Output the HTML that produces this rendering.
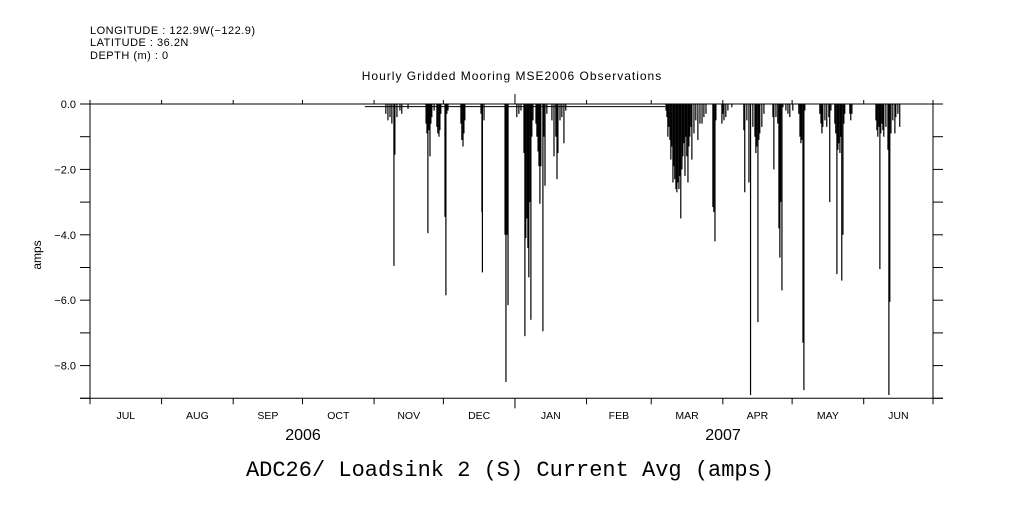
<!DOCTYPE html>
<html><head><meta charset="utf-8"><style>
body{margin:0;background:#fff;width:1009px;height:504px;overflow:hidden}
svg text{font-family:"Liberation Sans",sans-serif;fill:#000}
</style></head><body>
<svg id="chart" width="1009" height="504" viewBox="0 0 1009 504" xmlns="http://www.w3.org/2000/svg">
<g font-size="11" letter-spacing="0.5">
<text x="90" y="34">LONGITUDE : 122.9W(−122.9)</text>
<text x="90" y="46">LATITUDE : 36.2N</text>
<text x="90" y="59">DEPTH (m) : 0</text>
</g>
<text x="512" y="80" font-size="12" letter-spacing="1" text-anchor="middle">Hourly Gridded Mooring MSE2006 Observations</text>
<text transform="translate(41,255) rotate(-90)" font-size="12" text-anchor="middle">amps</text>
<text x="303" y="440" font-size="16" text-anchor="middle">2006</text>
<text x="723" y="440" font-size="16" text-anchor="middle">2007</text>
<text x="510" y="476" font-size="22" text-anchor="middle" style="font-family:'Liberation Mono',monospace">ADC26/ Loadsink 2 (S) Current Avg (amps)</text>
<g id="axes"></g>
<g id="bars"></g>
</svg>
<script>
const monthLabels=["JUL","AUG","SEP","OCT","NOV","DEC","JAN","FEB","MAR","APR","MAY","JUN"];
const monthDays=[31,31,30,31,30,31,31,28,31,30,31,30];
const yTicks=[0,-1,-2,-3,-4,-5,-6,-7,-8,-9];
const yTickLabels=["0.0","-2.0","-4.0","-6.0","-8.0"];
const baselineStart=119, baselineEnd=249, baselineValue=-0.08;
const spikeDays=[128.1,129,129.9,130.7,131.6,132,132.9,134.2,135,137.7,
145.5,145.9,146.3,146.8,147.2,147.6,148,149,
150.2,150.6,151.1,151.5,151.9,153.7,154.1,154.5,155,
160.6,161,161.5,161.9,162.3,
169.3,169.7,169.9,170.6,
179.7,180.1,180.5,181,
184.8,185.7,186.6,187.9,188.3,188.7,189.2,189.6,190,190.5,190.9,191.3,191.8,
193.1,193.5,194,194.4,194.8,195.2,196.1,196.5,197,197.8,
200,200.9,201.7,202.2,202.6,203.5,204.3,205.2,206,
249.4,249.8,250.2,250.6,251.1,251.5,251.9,252.4,252.8,253.2,253.7,254.1,254.5,255,255.4,255.8,256.3,256.7,257.1,257.6,258,258.4,258.9,259.3,259.7,260.2,260.6,261.5,262.3,263.2,264.1,265,265.8,266.7,
269.7,270.1,270.6,271,
273.6,274,274.5,275.3,276.2,277.9,
283.1,283.5,284.4,285.3,286,287,287.9,288.3,288.7,289.2,289.6,290,290.9,291.8,
295.7,296.1,297,297.8,298.3,298.7,299.1,299.6,300,
301.3,302.2,303,304.3,
306.9,307.4,307.8,308.2,308.7,309.1,309.5,
316,316.5,316.9,317.3,318.2,319,319.9,320.3,320.8,
322.5,322.9,323.4,323.8,324.2,324.7,325.1,325.5,326,326.4,326.8,
329,329.4,329.9,
340.3,340.7,341.1,341.6,342,342.4,342.9,343.3,343.7,344.6,345.5,345.9,346.3,346.8,347.6,348.5,348.9,349.8,350.6];
const spikeValues=[-0.3,-0.5,-0.4,-0.6,-4.95,-1.55,-0.4,-0.2,-0.3,-0.15,
-0.6,-0.9,-3.95,-0.8,-1.6,-0.6,-0.4,-0.2,
-0.7,-0.9,-1.0,-0.8,-0.3,-3.45,-5.85,-0.3,-0.2,
-0.6,-1.1,-1.3,-0.9,-0.5,
-0.3,-3.3,-5.15,-0.5,
-4.0,-8.5,-4.0,-6.15,
-0.4,-0.3,-0.2,-1.5,-7.1,-4.1,-3.5,-4.4,-5.3,-3.0,-6.6,-1.0,-0.5,
-0.6,-1.0,-1.45,-1.9,-3.05,-1.9,-6.95,-1.0,-2.5,-0.3,
-0.5,-1.6,-1.0,-2.3,-1.5,-0.5,-0.4,-1.2,-0.2,
-0.2,-0.4,-1.0,-0.7,-1.1,-1.7,-1.3,-2.4,-1.9,-2.3,-2.6,-2.7,-2.4,-2.6,-2.2,-3.5,-2.0,-1.6,-1.2,-2.2,-1.0,-1.6,-2.4,-1.3,-1.0,-0.7,-1.7,-0.9,-0.5,-1.1,-0.6,-0.6,-0.4,-0.3,
-3.15,-3.3,-4.2,-0.5,
-0.6,-0.3,-0.5,-0.4,-0.2,-0.1,
-0.8,-2.7,-0.5,-2.4,-8.9,-0.7,-1.0,-1.5,-1.3,-6.67,-1.1,-0.9,-0.7,-0.3,
-0.4,-2.0,-0.4,-0.6,-3.8,-4.7,-3.0,-5.7,-0.1,
-0.2,-0.3,-0.4,-0.2,
-0.3,-1.0,-1.2,-1.1,-7.3,-8.75,-0.2,
-0.3,-0.6,-0.9,-0.7,-0.5,-0.7,-0.4,-3.0,-0.2,
-0.6,-0.9,-5.2,-1.4,-1.2,-1.5,-1.0,-5.4,-4.0,-0.6,-0.3,
-0.3,-0.5,-0.3,
-0.5,-0.8,-1.0,-0.7,-5.05,-0.9,-0.6,-0.8,-1.0,-0.7,-1.4,-8.9,-6.05,-0.9,-0.5,-0.9,-0.4,-0.3,-0.7];

const X0=90,X1=933,Y0=104,PX_PER_UNIT=32.7,TOTAL=365;
const xs=d=>X0+d*(X1-X0)/TOTAL;
const ys=v=>Y0-v*PX_PER_UNIT;
const NS="http://www.w3.org/2000/svg";
const axes=document.getElementById('axes'), bars=document.getElementById('bars');
function mk(tag,attrs,parent){const e=document.createElementNS(NS,tag);for(const k in attrs)e.setAttribute(k,attrs[k]);parent.appendChild(e);return e;}
const yB=ys(-9);
let e=mk('line',{x1:X0,y1:Y0,x2:X1,y2:Y0,stroke:'#000','stroke-width':1},axes);


e=mk('line',{x1:X0,y1:Y0,x2:X0,y2:yB,stroke:'#000','stroke-width':1},axes);


e=mk('line',{x1:X1,y1:Y0,x2:X1,y2:yB,stroke:'#000','stroke-width':1},axes);


e=mk('line',{x1:X0-10,y1:yB,x2:X1+10,y2:yB,stroke:'#000','stroke-width':1},axes);


yTicks.forEach((v,i)=>{
  const y=ys(v);
  let t=mk('line',{x1:X0-10,y1:y,x2:X0,y2:y,stroke:'#000'},axes);
  
  
  t=mk('line',{x1:X1,y1:y,x2:X1+10,y2:y,stroke:'#000'},axes);
  
  
});
yTickLabels.forEach((lab,i)=>{
  const tx=mk('text',{x:X0-14,y:ys(-2*i)+4,'font-size':11,'text-anchor':'end'},axes);
  tx.textContent=lab.replace('-','−');
  
  
});
let cum=0;
for(let i=0;i<=monthDays.length;i++){
  const x=xs(cum), big=(i===6);
  let t=mk('line',{x1:x,y1:Y0-(big?10:4),x2:x,y2:Y0,stroke:'#000'},axes);
  
  
  t=mk('line',{x1:x,y1:yB,x2:x,y2:yB+(big?10:6),stroke:'#000'},axes);
  
  
  if(i<monthDays.length){
    const tx=mk('text',{x:xs(cum+monthDays[i]/2),y:419,'font-size':10.5,'text-anchor':'middle'},axes);
    tx.textContent=monthLabels[i];
    
    
    cum+=monthDays[i];
  }
}
e=mk('line',{x1:xs(baselineStart),y1:ys(baselineValue),x2:xs(baselineEnd),y2:ys(baselineValue),stroke:'#000','stroke-width':1},bars);


spikeDays.forEach((d,i)=>{
  const v=spikeValues[i];
  const r=mk('rect',{x:xs(d)-0.6,y:Y0,width:1.2,height:ys(v)-Y0,fill:'#000'},bars);
  
  
});
</script>
</body></html>
